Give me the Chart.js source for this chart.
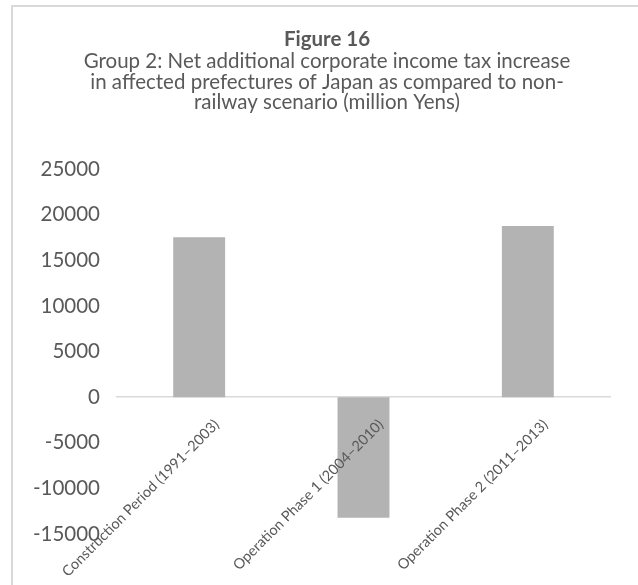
<!DOCTYPE html>
<html lang="en">
  <head>
    <meta charset="UTF-8" />
    <title>Figure 16</title>
    <script src="https://cdn.jsdelivr.net/npm/chart.js"></script>
    <style>
      html, body { margin: 0; padding: 0; background: #fff; overflow: hidden; }
      #wrap { width: 638px; height: 585px; }
    </style>
  </head>
  <body>
    <div id="wrap"><canvas id="myCanvas"></canvas></div>
    <script>
      // data
      const periodos = [
        "Construction Period (1991\u20132003)",
        "Operation Phase 1 (2004\u20132010)",
        "Operation Phase 2 (2011\u20132013)",
      ];
      const valores = [17540, -13230, 18750];
      const eixoY = [-15000, -10000, -5000, 0, 5000, 10000, 15000, 20000, 25000];

      const titulo = "Figure 16";
      const subtitulo = [
        "Group 2: Net additional corporate income tax increase",
        "in affected prefectures of Japan as compared to non-",
        "railway scenario (million Yens)",
      ];

      const cinzaTexto = "#595959";

      Chart.defaults.font.family = "Lato";
      Chart.defaults.color = cinzaTexto;

      // light grey frame of the original chart box (cut off at right/bottom)
      const moldura = {
        id: "moldura",
        beforeDraw(chart) {
          const ctx = chart.ctx;
          ctx.save();
          ctx.strokeStyle = "#d9d9d9";
          ctx.lineWidth = 2;
          ctx.beginPath();
          ctx.moveTo(12, 585);
          ctx.lineTo(12, 6);
          ctx.lineTo(638, 6);
          ctx.stroke();
          ctx.restore();
        },
      };

      const config = {
        type: "bar",
        data: {
          labels: periodos,
          datasets: [
            {
              label: "Tax increase",
              data: valores,
              backgroundColor: "#b3b3b3",
              borderWidth: 0,
              barPercentage: 0.316,
              categoryPercentage: 1,
            },
          ],
        },
        options: {
          responsive: true,
          maintainAspectRatio: false,
          animation: false,
          layout: {
            padding: { left: 24, right: 8, top: 0, bottom: 51 },
          },
          scales: {
            x: {
              position: { y: 0 },
              offset: true,
              grid: { display: false, drawTicks: false },
              border: { display: true, color: "#d9d9d9", width: 1.5 },
              ticks: {
                z: 1, // labels go over the negative bar
                autoSkip: false,
                minRotation: 45,
                maxRotation: 45,
                padding: 19,
                labelOffset: 17.5,
                color: cinzaTexto,
                font: { size: 14.5 },
              },
              afterFit(scale) {
                // labels sit on the zero line, so the axis takes no room
                scale.height = 0;
                scale.paddingLeft = 0;
                scale.paddingRight = 28;
              },
            },
            y: {
              min: eixoY[0],
              max: eixoY[eixoY.length - 1],
              afterBuildTicks(scale) {
                scale.ticks = eixoY.map((v) => ({ value: v }));
              },
              grid: { display: false, drawTicks: false },
              border: { display: false },
              ticks: {
                padding: 17,
                color: cinzaTexto,
                font: { size: 20.5 },
                callback: (v) => String(v),
              },
              afterFit(scale) {
                scale.width = 93;
              },
            },
          },
          plugins: {
            legend: { display: false },
            tooltip: { enabled: false },
            title: {
              display: true,
              text: titulo,
              color: cinzaTexto,
              font: { size: 20.5, weight: "bold", lineHeight: 1.2 },
              padding: { top: 27, bottom: 0 },
            },
            subtitle: {
              display: true,
              text: subtitulo,
              color: cinzaTexto,
              font: { size: 20.5, lineHeight: 1 },
              padding: { top: 0, bottom: 56 },
            },
          },
        },
        plugins: [moldura],
      };

      new Chart(document.getElementById("myCanvas"), config);
    </script>
  </body>
</html>
